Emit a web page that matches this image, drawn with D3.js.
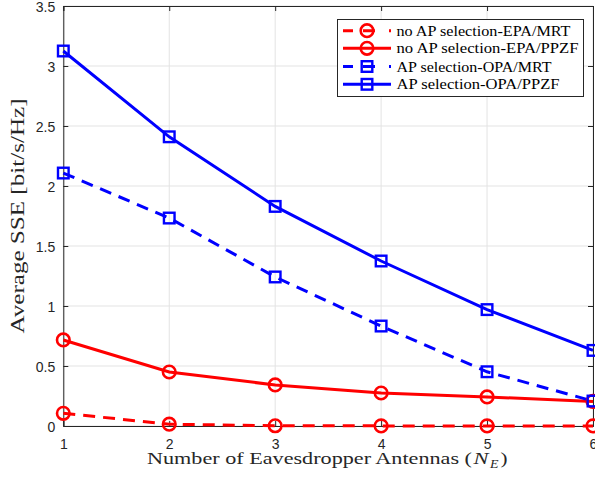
<!DOCTYPE html>
<html>
<head>
<meta charset="utf-8">
<script src="https://cdn.jsdelivr.net/npm/d3@7"></script>
<style>
  html, body { margin: 0; padding: 0; background: #fff; }
  svg { display: block; }
  .serif { font-family: "Liberation Serif", "Times New Roman", Times, serif; }
  .sans { font-family: "Liberation Sans", Arial, Helvetica, sans-serif; }
</style>
</head>
<body>
<svg id="chart" width="595" height="484"></svg>
<script>
// Number of eavesdropper antennas
const antennas = [1, 2, 3, 4, 5, 6];

// Average SSE [bit/s/Hz] for each scheme
const epaMrt  = [0.106, 0.015, 0.002, 0.001, 0.001, 0.001];
const epaPpzf = [0.717, 0.45, 0.342, 0.275, 0.242, 0.205];
const opaMrt  = [2.108, 1.733, 1.242, 0.833, 0.452, 0.208];
const opaPpzf = [3.125, 2.41, 1.83, 1.375, 0.97, 0.63];

const seriesNames = [
  "no AP selection-EPA/MRT",
  "no AP selection-EPA/PPZF",
  "AP selection-OPA/MRT",
  "AP selection-OPA/PPZF"
];

const xTicks = [1, 2, 3, 4, 5, 6];
const yTicks = [0, 0.5, 1, 1.5, 2, 2.5, 3, 3.5];

const series = [
  { name: seriesNames[0], values: epaMrt,  color: "#ff0000", dashed: true,  marker: "circle", textW: 174 },
  { name: seriesNames[1], values: epaPpzf, color: "#ff0000", dashed: false, marker: "circle", textW: 182 },
  { name: seriesNames[2], values: opaMrt,  color: "#0000ff", dashed: true,  marker: "square", textW: 155 },
  { name: seriesNames[3], values: opaPpzf, color: "#0000ff", dashed: false, marker: "square", textW: 163 }
];

const svg = d3.select("#chart");
const plotL = 63.3, plotR = 593, plotT = 6, plotB = 426;

const x = d3.scaleLinear().domain([1, 6]).range([plotL, plotR]);
const y = d3.scaleLinear().domain([0, 3.5]).range([plotB, plotT]);

// Grid
const grid = svg.append("g");
grid.selectAll("line.gx").data(xTicks).join("line")
  .attr("x1", d => x(d)).attr("x2", d => x(d))
  .attr("y1", plotT).attr("y2", plotB)
  .attr("stroke", "#e3e3e3").attr("stroke-width", 1);
grid.selectAll("line.gy").data(yTicks).join("line")
  .attr("x1", plotL).attr("x2", plotR)
  .attr("y1", d => y(d)).attr("y2", d => y(d))
  .attr("stroke", "#e3e3e3").attr("stroke-width", 1);

// Axes (box with inward ticks)
const xAxis = svg.append("g").attr("transform", `translate(0,${plotB})`)
  .call(d3.axisBottom(x).tickValues(xTicks).tickSize(-5).tickPadding(13).tickFormat(d3.format("d")));
const yAxis = svg.append("g").attr("transform", `translate(${plotL},0)`)
  .call(d3.axisLeft(y).tickValues(yTicks).tickSize(-5).tickPadding(8).tickFormat(d => d3.format("")(d)));
const xTop = svg.append("g").attr("transform", `translate(0,${plotT})`)
  .call(d3.axisTop(x).tickValues(xTicks).tickSize(-5).tickFormat(""));
const yRight = svg.append("g").attr("transform", `translate(${plotR},0)`)
  .call(d3.axisRight(y).tickValues(yTicks).tickSize(-5).tickFormat(""));

[xAxis, yAxis, xTop, yRight].forEach(g => {
  g.attr("font-family", null).attr("font-size", null);
  g.select(".domain").attr("stroke", "#262626").attr("stroke-width", 1);
  g.selectAll(".tick line").attr("stroke", "#262626");
  g.selectAll("text").attr("class", "sans").style("font-size", "14px").attr("fill", "#262626");
});
yAxis.selectAll("text").attr("dy", "0.42em");

// Lines
const line = d3.line().x((d, i) => x(antennas[i])).y(d => y(d));
const plot = svg.append("g");

series.forEach(s => {
  plot.append("path")
    .attr("d", line(s.values))
    .attr("fill", "none")
    .attr("stroke", s.color)
    .attr("stroke-width", 3)
    .attr("stroke-dasharray", s.dashed ? "12,8" : null);
});

function drawMarker(g, type, cx, cy, color) {
  if (type === "circle") {
    g.append("circle").attr("cx", cx).attr("cy", cy).attr("r", 6.3)
      .attr("fill", "none").attr("stroke", color).attr("stroke-width", 2.6);
  } else {
    g.append("rect").attr("x", cx - 5.3).attr("y", cy - 5.3)
      .attr("width", 10.6).attr("height", 10.6)
      .attr("fill", "none").attr("stroke", color).attr("stroke-width", 2.4);
  }
}

series.forEach(s => {
  s.values.forEach((v, i) => drawMarker(plot, s.marker, x(antennas[i]), y(v), s.color));
});

// Axis titles
const title = (size) => svg.append("text").attr("class", "serif")
  .style("font-size", size + "px").attr("fill", "#262626")
  .attr("lengthAdjust", "spacingAndGlyphs");

title(17.5).attr("x", 147).attr("y", 464)
  .attr("textLength", 325)
  .text("Number of Eavesdropper Antennas (");
title(17.5).attr("x", 473.5).attr("y", 464).attr("textLength", 15)
  .style("font-style", "italic").text("N");
title(12).attr("x", 490).attr("y", 467.5).attr("textLength", 8.5)
  .style("font-style", "italic").text("E");
title(17.5).attr("x", 500.5).attr("y", 464).attr("textLength", 7).text(")");

title(18)
  .attr("transform", `translate(24,${(plotT + plotB) / 2}) rotate(-90)`)
  .attr("text-anchor", "middle")
  .attr("textLength", 235)
  .text("Average SSE [bit/s/Hz]");

// Legend
const lg = svg.append("g");
lg.append("rect").attr("x", 337.5).attr("y", 19.5).attr("width", 246).attr("height", 77)
  .attr("fill", "#fff").attr("stroke", "#262626").attr("stroke-width", 1);
const rowY = [30.7, 48.3, 66.5, 84.3];
series.forEach((s, i) => {
  const yy = rowY[i];
  lg.append("line").attr("x1", 343).attr("x2", 391).attr("y1", yy).attr("y2", yy)
    .attr("stroke", s.color).attr("stroke-width", 3)
    .attr("stroke-dasharray", s.dashed ? "10,10,12,14,2" : null);
  drawMarker(lg, s.marker, 367, yy, s.color);
  lg.append("text").attr("class", "serif").attr("x", 396.5).attr("y", yy + 5)
    .style("font-size", "14.5px").attr("fill", "#000")
    .attr("textLength", s.textW).attr("lengthAdjust", "spacingAndGlyphs")
    .text(s.name);
});
</script>
</body>
</html>
